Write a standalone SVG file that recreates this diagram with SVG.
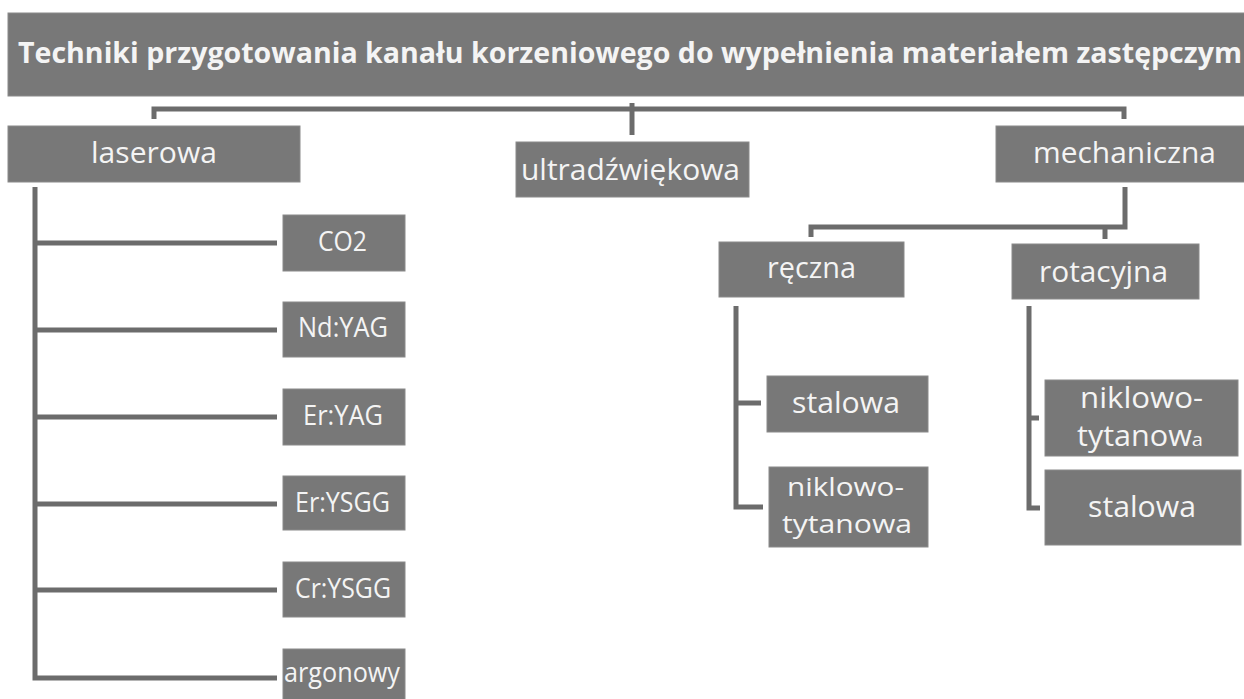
<svg xmlns="http://www.w3.org/2000/svg" width="1244" height="699" viewBox="0 0 1244 699">
<style>
.box{fill:#787878;stroke:#8a8a8a;stroke-width:1}
.t{font-family:"Open Sans","Liberation Sans",sans-serif;fill:#f4f4f4;font-size:27px}
.tl{font-family:"Open Sans","Liberation Sans",sans-serif;fill:#f4f4f4;font-size:29px}
.tm{font-family:"Open Sans","Liberation Sans",sans-serif;fill:#f4f4f4;font-size:26px}
.tb{font-family:"Open Sans","Liberation Sans",sans-serif;fill:#f4f4f4;font-size:28px;font-weight:bold}
.ln{fill:none;stroke:#6c6c6c;stroke-width:5;stroke-linejoin:miter}
</style>
<rect width="1244" height="699" fill="#ffffff"/>
<g id="connectors">
<path class="ln" d="M154 119 V109 H1124 V119"/>
<path class="ln" d="M632 103 V135"/>
<path class="ln" d="M35 187 V678 H277"/>
<path class="ln" d="M35 243 H277 M35 330 H277 M35 417 H277 M35 504 H277 M35 590 H277"/>
<path class="ln" d="M1125 187 V227 H811 V237"/>
<path class="ln" d="M1105 227 V239"/>
<path class="ln" d="M736 306 V507 H763 M736 403 H761"/>
<path class="ln" d="M1029 306 V508 H1040 M1029 418 H1039"/>
</g>
<g id="title"><rect class="box" x="8" y="13" width="1240" height="83"/><text class="tb" x="18" y="63" textLength="1224" lengthAdjust="spacingAndGlyphs">Techniki przygotowania kanału korzeniowego do wypełnienia materiałem zastępczym</text></g>
<g id="laserowa"><rect class="box" x="8" y="126" width="292" height="56"/><text class="tl" x="91" y="163" textLength="126" lengthAdjust="spacingAndGlyphs">laserowa</text></g>
<g id="ultradzwiekowa"><rect class="box" x="516" y="142" width="233" height="55"/><text class="tl" x="521" y="180" textLength="219" lengthAdjust="spacingAndGlyphs">ultradźwiękowa</text></g>
<g id="mechaniczna"><rect class="box" x="996" y="126" width="252" height="56"/><text class="tl" x="1033" y="163" textLength="183" lengthAdjust="spacingAndGlyphs">mechaniczna</text></g>
<g id="co2"><rect class="box" x="283" y="215" width="122" height="56"/><text class="t" x="318" y="251" textLength="49" lengthAdjust="spacingAndGlyphs">CO2</text></g>
<g id="ndyag"><rect class="box" x="283" y="302" width="122" height="55"/><text class="t" x="298" y="337" textLength="90" lengthAdjust="spacingAndGlyphs">Nd:YAG</text></g>
<g id="eryag"><rect class="box" x="283" y="389" width="122" height="56"/><text class="t" x="303" y="425" textLength="80" lengthAdjust="spacingAndGlyphs">Er:YAG</text></g>
<g id="erysgg"><rect class="box" x="283" y="476" width="122" height="54"/><text class="t" x="295" y="512" textLength="95" lengthAdjust="spacingAndGlyphs">Er:YSGG</text></g>
<g id="crysgg"><rect class="box" x="283" y="562" width="122" height="55"/><text class="t" x="295" y="598" textLength="96" lengthAdjust="spacingAndGlyphs">Cr:YSGG</text></g>
<g id="argonowy"><rect class="box" x="283" y="649" width="122" height="55"/><text class="t" x="284" y="682" textLength="116" lengthAdjust="spacingAndGlyphs">argonowy</text></g>
<g id="reczna"><rect class="box" x="719" y="242" width="185" height="55"/><text class="tl" x="767" y="278" textLength="89" lengthAdjust="spacingAndGlyphs">ręczna</text></g>
<g id="rotacyjna"><rect class="box" x="1012" y="244" width="187" height="55"/><text class="tl" x="1039" y="282" textLength="129" lengthAdjust="spacingAndGlyphs">rotacyjna</text></g>
<g id="stalowa1"><rect class="box" x="767" y="376" width="161" height="56"/><text class="tl" x="792" y="413" textLength="108" lengthAdjust="spacingAndGlyphs">stalowa</text></g>
<g id="niklowo1"><rect class="box" x="769" y="467" width="159" height="80"/><text class="tm" x="787" y="496" textLength="117" lengthAdjust="spacingAndGlyphs">niklowo-</text><text class="tm" x="782" y="533" textLength="130" lengthAdjust="spacingAndGlyphs">tytanowa</text></g>
<g id="niklowo2"><rect class="box" x="1045" y="380" width="193" height="76"/><text class="tl" x="1080" y="408" textLength="123" lengthAdjust="spacingAndGlyphs">niklowo-</text><text class="tl" x="1077" y="446" textLength="126" lengthAdjust="spacingAndGlyphs">tytanow<tspan font-size="19">a</tspan></text></g>
<g id="stalowa2"><rect class="box" x="1045" y="470" width="196" height="75"/><text class="tl" x="1088" y="517" textLength="108" lengthAdjust="spacingAndGlyphs">stalowa</text></g>
</svg>
